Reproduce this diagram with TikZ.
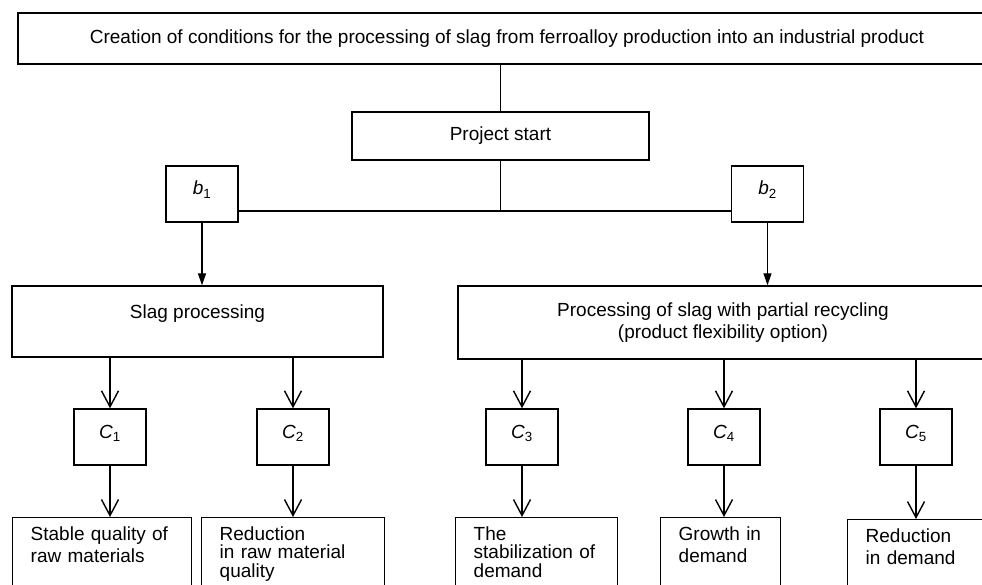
\documentclass[tikz,border=0pt]{standalone}
\usepackage{fontspec}
\setmainfont{Liberation Sans}
\usetikzlibrary{arrows.meta, positioning}

\begin{document}
\begin{tikzpicture}[
    x=1pt, y=-1pt,
    line width=1.4pt,
    every node/.style={font=\fontsize{19}{22}\selectfont},
    box/.style={draw, inner sep=0pt, align=center},
    labbox/.style={box, minimum width=72pt, minimum height=56pt, text height=13pt, text depth=11pt},
    outcome/.style={draw, anchor=north west, align=left, inner xsep=18pt, inner ysep=9pt, text depth=70pt},
    pick/.style={-{Triangle[length=12pt, width=8pt]}},
    flow/.style={-{Straight Barb[length=16pt, width=17pt]}}
]
\useasboundingbox (0,0) rectangle (982,585);
\clip (0,0) rectangle (982,585);

% Goal and start
\node[box, minimum width=978pt, minimum height=51pt] (goal) at (507,38.5)
    {Creation of conditions for the processing of slag from ferroalloy production into an industrial product};
\node[box, minimum width=297pt, minimum height=48pt] (start) at (500.5,136) {Project start};

% Decisions
\node[labbox] (b1) at (202,194) {\textit{b}\textsubscript{1}};
\node[labbox] (b2) at (767.5,194) {\textit{b}\textsubscript{2}};
\coordinate (junc) at (500.5,211);

% Alternatives
\node[box, minimum width=371pt, minimum height=71pt, text height=13pt, text depth=19pt] (slag) at (197.5,321.5) {Slag processing};
\node[box, minimum width=530pt, minimum height=73pt] (recyc) at (723,322.5)
    {Processing of slag with partial recycling\\(product flexibility option)};

% States
\node[labbox] (c1) at (110,437) {\textit{C}\textsubscript{1}};
\node[labbox] (c2) at (293,437) {\textit{C}\textsubscript{2}};
\node[labbox] (c3) at (522,437) {\textit{C}\textsubscript{3}};
\node[labbox] (c4) at (724,437) {\textit{C}\textsubscript{4}};
\node[labbox] (c5) at (916,437) {\textit{C}\textsubscript{5}};

% Outcomes
\node[outcome, text width=143pt] (r1) at (12,517) {Stable quality of\\raw materials};
\node[outcome, text width=147pt, font=\fontsize{19}{18.5}\selectfont] (r2) at (201,517) {Reduction\\in raw material\\quality};
\node[outcome, text width=126pt, font=\fontsize{19}{18.5}\selectfont] (r3) at (455,517) {The\\stabilization of\\demand};
\node[outcome, text width=84pt] (r4) at (660,517) {Growth in\\demand};
\node[outcome, text width=107pt] (r5) at (847,519) {Reduction\\in demand};

% Edges
\draw (start.north |- goal.south) -- (start);
\draw (start) -- (junc);
\draw (b1.east |- junc) -- (b2.west |- junc);
\draw[pick] (b1) -- (b1 |- slag.north);
\draw[pick] (b2) -- (b2 |- recyc.north);
\draw[flow] (c1 |- slag.south) -- (c1);
\draw[flow] (c2 |- slag.south) -- (c2);
\draw[flow] (c3 |- recyc.south) -- (c3);
\draw[flow] (c4 |- recyc.south) -- (c4);
\draw[flow] (c5 |- recyc.south) -- (c5);
\draw[flow] (c1) -- (c1 |- r1.north);
\draw[flow] (c2) -- (c2 |- r2.north);
\draw[flow] (c3) -- (c3 |- r3.north);
\draw[flow] (c4) -- (c4 |- r4.north);
\draw[flow] (c5) -- (c5 |- r5.north);

\end{tikzpicture}
\end{document}
